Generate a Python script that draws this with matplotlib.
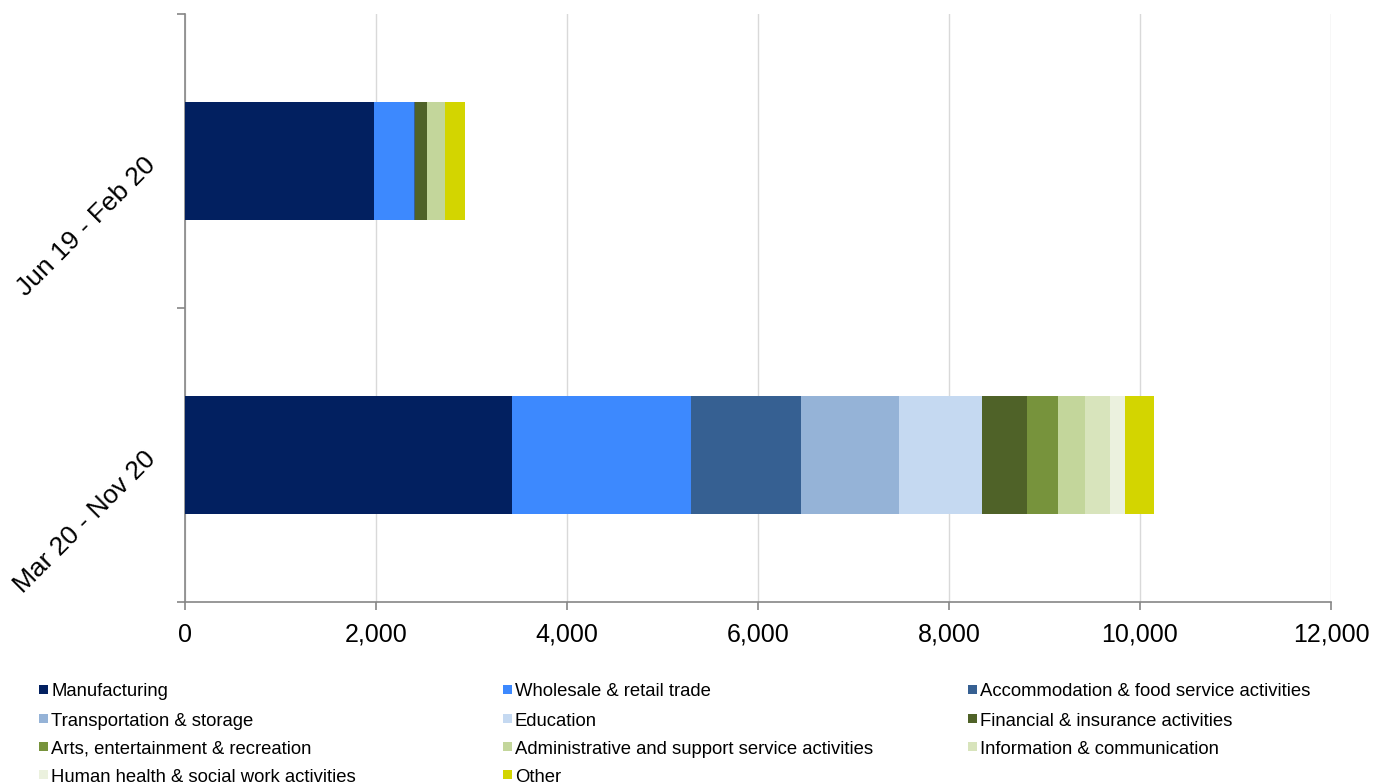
import matplotlib
matplotlib.use("Agg")
import matplotlib.pyplot as plt
from matplotlib.patches import Rectangle
from matplotlib.ticker import FuncFormatter, FixedLocator
import numpy as np

plt.rcParams['font.family'] = ['Liberation Sans', 'DejaVu Sans']

# ============================
# Data
# ============================
periods = ["Mar 20 - Nov 20", "Jun 19 - Feb 20"]

sectors = [
    "Manufacturing",
    "Wholesale & retail trade",
    "Accommodation & food service activities",
    "Transportation & storage",
    "Education",
    "Financial & insurance activities",
    "Arts, entertainment & recreation",
    "Administrative and support service activities",
    "Information & communication",
    "Human health & social work activities",
    "Other",
]

# values per sector: [Mar 20 - Nov 20, Jun 19 - Feb 20]
manufacturing = [3425, 1980]
wholesale = [1875, 420]
accommodation = [1150, 12]
transportation = [1025, 0]
education = [870, 0]
financial = [470, 122]
arts = [325, 0]
administrative = [285, 190]
information = [260, 0]
health = [155, 0]
other = [305, 210]

values = [manufacturing, wholesale, accommodation, transportation, education,
          financial, arts, administrative, information, health, other]

colors = ["#022060", "#3d89fe", "#366092", "#95b3d7", "#c5d9f1", "#4f6228",
          "#77933c", "#c3d69b", "#d8e4bc", "#ebf1de", "#d3d500"]

# ============================
# Plot
# ============================
fig = plt.figure(figsize=(13.74, 7.82), dpi=100)
ax = fig.add_axes([185/1374, 1 - 602/782, 1146/1374, 588/782])

y = np.arange(len(periods))
left = np.zeros(len(periods))
for vals, col in zip(values, colors):
    ax.barh(y, vals, left=left, height=0.4, color=col, linewidth=0, zorder=3)
    left += np.array(vals)

ax.set_xlim(0, 12000)
ax.set_ylim(-0.5, 1.5)

ax.set_xticks(np.arange(0, 12001, 2000))
ax.xaxis.set_major_formatter(FuncFormatter(lambda v, p: f"{int(v):,}"))
ax.grid(axis='x', color='#d9d9d9', linewidth=1.0, zorder=0)

# y ticks at category boundaries, labels at centers
ax.yaxis.set_major_locator(FixedLocator([-0.5, 0.5, 1.5]))
ax.yaxis.set_major_formatter(FuncFormatter(lambda v, p: ""))
ax.yaxis.set_minor_locator(FixedLocator(y))
ax.set_yticklabels(periods, minor=True)
ax.tick_params(axis='y', which='minor', length=0, pad=24, labelsize=19)
for lbl in ax.get_yticklabels(minor=True):
    lbl.set_rotation(45)
    lbl.set_rotation_mode('anchor')
    lbl.set_ha('right')
    lbl.set_va('center')

ax.tick_params(axis='both', which='major', length=6, width=1.2,
               color='#868686', labelsize=18, direction='out')
ax.tick_params(axis='x', pad=9)

for s in ['top', 'right']:
    ax.spines[s].set_visible(False)
for s in ['left', 'bottom']:
    ax.spines[s].set_color('#868686')
    ax.spines[s].set_linewidth(1.2)

# ============================
# Legend (row-major, 3 columns)
# ============================
col_x = [39, 503, 968]
row_y = [690, 719, 747, 775]
W, H = 1374, 782
for i, (name, col) in enumerate(zip(sectors, colors)):
    r, c = divmod(i, 3)
    x0 = col_x[c]
    yc = row_y[r]
    fig.patches.append(Rectangle((x0 / W, 1 - (yc + 4) / H), 9 / W, 9 / H,
                                 transform=fig.transFigure, facecolor=col,
                                 edgecolor='none'))
    fig.text((x0 + 12) / W, 1 - yc / H, name, fontsize=13.3,
             ha='left', va='center_baseline')

fig.savefig("out.png", dpi=100)
